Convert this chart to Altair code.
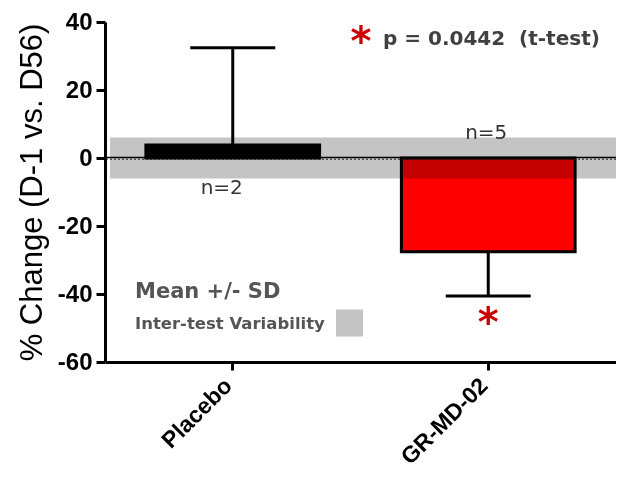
import altair as alt
import pandas as pd

# ---- data ----
groups = ["Placebo", "GR-MD-02"]
means = [3.8, -27.6]
sds = [28.6, 13.0]
n_labels = ["n=2", "n=5"]
variability = 6.0          # +/- inter-test variability band
y_ticks = [-60, -40, -20, 0, 20, 40]
p_text = "p = 0.0442\u00a0\u00a0(t-test)"

df = pd.DataFrame({"group": groups, "mean": means, "sd": sds, "n": n_labels})
df["err_end"] = [m + (s if m >= 0 else -s) for m, s in zip(means, sds)]
band_df = pd.DataFrame({"lo": [-variability], "hi": [variability]})

W, H = 511, 340

x_enc = alt.X(
    "group:N",
    sort=groups,
    scale=alt.Scale(domain=groups, paddingInner=0.32, paddingOuter=0.16),
    axis=alt.Axis(
        title=None, labelAngle=-45, labelAlign="right", labelBaseline="top",
        labelFont="Liberation Sans", labelFontWeight="bold", labelFontSize=23,
        labelColor="black", labelPadding=4, labelOffset=-12, tickSize=8, tickWidth=3,
        tickColor="black", domainWidth=3, domainColor="black", grid=False,
    ),
)
y_scale = alt.Scale(domain=[-60, 40], nice=False, zero=False)
y_axis = alt.Axis(
    values=y_ticks, title="% Change (D-1 vs. D56)", titleFont="Liberation Sans",
    titleFontSize=31, titleFontWeight="normal", titleColor="black", titlePadding=9,
    labelExpr="'' + datum.value",
    labelFont="Liberation Sans", labelFontWeight="bold", labelFontSize=24,
    labelColor="black", labelPadding=4, tickSize=9, tickWidth=3, tickColor="black",
    domainWidth=3, domainColor="black", grid=False,
)

base = alt.Chart(df)

bars = base.mark_bar(stroke="black", strokeWidth=3, opacity=1).encode(
    x=x_enc,
    y=alt.Y("mean:Q", scale=y_scale, axis=y_axis),
    y2=alt.datum(0),
    color=alt.Color("group:N", scale=alt.Scale(domain=groups, range=["#000000", "#ff0000"]), legend=None),
)

band = alt.Chart(band_df).mark_rect(color="#c4c4c4", blend="multiply", opacity=1).encode(
    x=alt.value(5), x2=alt.value(519),
    y=alt.Y("lo:Q", scale=y_scale), y2="hi:Q",
)

zero_solid = alt.Chart(band_df).mark_rule(color="black", strokeWidth=1.5, opacity=1).encode(
    y=alt.datum(0), yOffset=alt.value(-0.5)
)
zero_dot = alt.Chart(band_df).mark_rule(color="#222222", strokeWidth=1, strokeDash=[2, 2]).encode(
    y=alt.datum(0), yOffset=alt.value(1.2)
)

whisk = base.mark_rule(color="black", strokeWidth=3, opacity=1).encode(
    x=alt.X("group:N", sort=groups), y="mean:Q", y2="err_end:Q"
)
caps = base.mark_tick(color="black", thickness=3, size=85, orient="horizontal", opacity=1).encode(
    x=alt.X("group:N", sort=groups), y="err_end:Q"
)

n2 = base.transform_filter(alt.datum.group == "Placebo").mark_text(
    font="DejaVu Sans", fontSize=20, color="#333333", dx=-11, baseline="alphabetic"
).encode(x=alt.X("group:N", sort=groups), y=alt.value(172), text="n:N")
n5 = base.transform_filter(alt.datum.group == "GR-MD-02").mark_text(
    font="DejaVu Sans", fontSize=20, color="#333333", dx=-2, baseline="alphabetic"
).encode(x=alt.X("group:N", sort=groups), y=alt.value(117), text="n:N")

star_low = base.transform_filter(alt.datum.group == "GR-MD-02").mark_text(
    text="*", font="DejaVu Sans", fontWeight="bold", fontSize=40, color="#cc0000",
    baseline="alphabetic",
).encode(x=alt.X("group:N", sort=groups), y=alt.value(314))

star_top = alt.Chart(band_df).mark_text(
    text="*", font="DejaVu Sans", fontWeight="bold", fontSize=40, color="#cc0000",
    baseline="alphabetic", align="center",
).encode(x=alt.value(256), y=alt.value(33))

p_lbl = alt.Chart(band_df).mark_text(
    text=p_text, font="DejaVu Sans", fontWeight="bold", fontSize=20, color="#404040",
    baseline="alphabetic", align="left",
).encode(x=alt.value(278), y=alt.value(23))

mean_lbl = alt.Chart(band_df).mark_text(
    text="Mean +/- SD", font="DejaVu Sans", fontWeight="bold", fontSize=21, color="#555555",
    baseline="alphabetic", align="left",
).encode(x=alt.value(30), y=alt.value(276))

var_lbl = alt.Chart(band_df).mark_text(
    text="Inter-test Variability", font="DejaVu Sans", fontWeight="bold", fontSize=16.5,
    color="#555555", baseline="alphabetic", align="left",
).encode(x=alt.value(30), y=alt.value(307))

var_key = alt.Chart(band_df).mark_square(color="#c4c4c4", opacity=1, size=729).encode(
    x=alt.value(244.5), y=alt.value(301)
)

chart = alt.layer(
    bars, band, zero_solid, zero_dot, whisk, caps, n2, n5, star_low, star_top,
    p_lbl, mean_lbl, var_lbl, var_key,
).properties(
    width=W, height=H, autosize=alt.AutoSizeParams(type="none"),
    padding={"left": 97, "top": 14, "right": 0, "bottom": 108},
).configure(background="white").configure_view(stroke=None)

chart.save("out.html", embed_options={"renderer": "svg", "actions": False})
